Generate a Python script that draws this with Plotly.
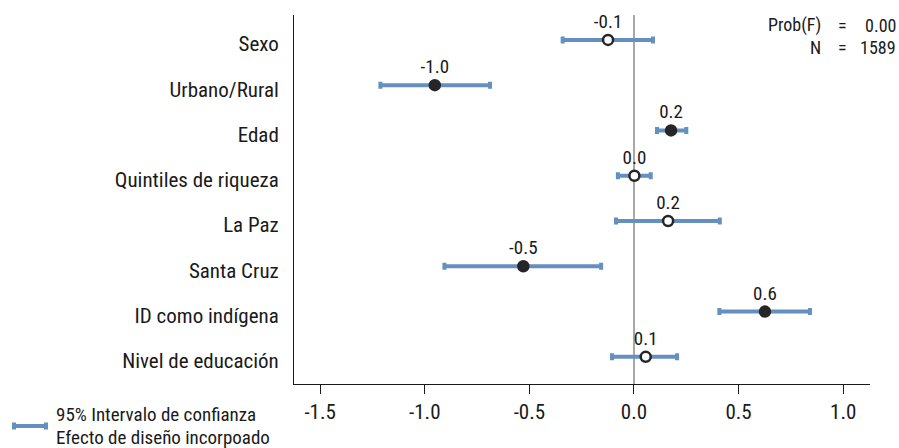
import plotly.graph_objects as go

# Coefficient estimates with 95% confidence intervals (design effect included)
variables = ["Sexo", "Urbano/Rural", "Edad", "Quintiles de riqueza",
             "La Paz", "Santa Cruz", "ID como indígena", "Nivel de educación"]
estimates = [-0.124, -0.952, 0.177, 0.002, 0.163, -0.529, 0.626, 0.056]
ci_low = [-0.341, -1.212, 0.110, -0.077, -0.086, -0.906, 0.408, -0.105]
ci_high = [0.091, -0.688, 0.250, 0.080, 0.410, -0.157, 0.841, 0.206]
significant = [False, True, True, False, False, True, True, False]

x_ticks = [-1.5, -1.0, -0.5, 0.0, 0.5, 1.0]
prob_f = "0.00"
n_obs = "1589"

FONT = "Liberation Sans Narrow, Roboto Condensed, DejaVu Sans Condensed, Arial Narrow, sans-serif"
CI_COLOR = "#6490c0"
DOT_COLOR = "#262626"
TXT = "#1a1a1a"

fig = go.Figure()

# Confidence interval bars (error bars around each estimate)
fig.add_trace(go.Scatter(
    x=estimates, y=variables, mode="markers",
    marker=dict(size=1, color="rgba(0,0,0,0)"),
    error_x=dict(type="data", symmetric=False,
                 array=[h - e for h, e in zip(ci_high, estimates)],
                 arrayminus=[e - l for e, l in zip(estimates, ci_low)],
                 color=CI_COLOR, thickness=4, width=3.5),
    showlegend=False, hoverinfo="skip",
))

# Point estimates: filled when significant, hollow otherwise
fig.add_trace(go.Scatter(
    x=estimates, y=variables, mode="markers+text",
    text=[f"{v:.1f}" for v in estimates], textposition="top center",
    textfont=dict(family=FONT, size=19, color=TXT),
    marker=dict(size=10,
                color=[DOT_COLOR if s else "white" for s in significant],
                line=dict(color=DOT_COLOR, width=2.5)),
    showlegend=False,
))

L, R, T, B = 294, 29, 15, 64
W, H = 899, 448
pw = W - L - R
ph = H - T - B

def px_x(px):
    return (px - L) / pw

def px_y(py):
    return 1 - (py - T) / ph

# Legend sample line with caps
ly = px_y(426)
shapes = [
    dict(type="line", xref="paper", yref="paper", x0=px_x(13), x1=px_x(47), y0=ly, y1=ly,
         line=dict(color=CI_COLOR, width=4)),
    dict(type="line", xref="paper", yref="paper", x0=px_x(14), x1=px_x(14),
         y0=ly - 3.5 / ph, y1=ly + 3.5 / ph, line=dict(color=CI_COLOR, width=4)),
    dict(type="line", xref="paper", yref="paper", x0=px_x(46), x1=px_x(46),
         y0=ly - 3.5 / ph, y1=ly + 3.5 / ph, line=dict(color=CI_COLOR, width=4)),
]

annotations = [
    dict(xref="paper", yref="paper", x=px_x(54), y=px_y(415), xanchor="left", yanchor="middle",
         text="95% Intervalo de confianza", showarrow=False,
         font=dict(family=FONT, size=19, color=TXT)),
    dict(xref="paper", yref="paper", x=px_x(54), y=px_y(437), xanchor="left", yanchor="middle",
         text="Efecto de diseño incorpoado", showarrow=False,
         font=dict(family=FONT, size=19, color=TXT)),
]
for label, val, py in [("Prob(F)", prob_f, 25), ("N", n_obs, 47)]:
    for txt, px, anchor in [(label, 823, "right"), ("=", 842, "center"), (val, 898, "right")]:
        annotations.append(dict(xref="paper", yref="paper", x=px_x(px), y=px_y(py),
                                xanchor=anchor, yanchor="middle", text=txt, showarrow=False,
                                font=dict(family=FONT, size=18, color=TXT)))

fig.update_layout(
    width=W, height=H,
    margin=dict(l=L, r=R, t=T, b=B),
    plot_bgcolor="white", paper_bgcolor="white",
    font=dict(family=FONT, color=TXT),
    shapes=shapes, annotations=annotations,
    xaxis=dict(range=[-1.625, 1.128], tickvals=x_ticks,
               ticktext=[f"{t:.1f}" for t in x_ticks],
               showgrid=False, zeroline=True, zerolinecolor="#a8a8a8", zerolinewidth=2,
               showline=True, linecolor=TXT, linewidth=1,
               ticks="outside", ticklen=9, tickcolor=TXT,
               tickfont=dict(family=FONT, size=21, color=TXT)),
    yaxis=dict(range=[7.6, -0.55], showgrid=False, zeroline=False,
               showline=True, linecolor=TXT, linewidth=1,
               ticks="", ticklabelstandoff=10, ticklabelshift=-4,
               tickfont=dict(family=FONT, size=21, color=TXT)),
)

fig.write_html("out.html")
